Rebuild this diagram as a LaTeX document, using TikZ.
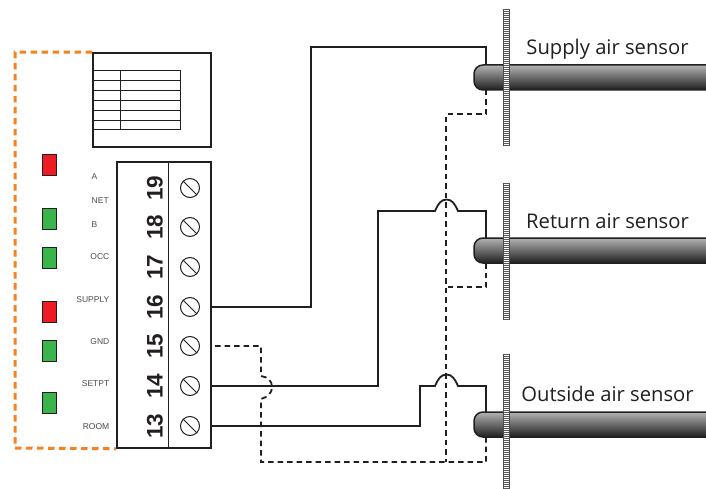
\documentclass[tikz,border=0pt]{standalone}
\usepackage{fontspec}
\setmainfont{Liberation Sans}
\newfontfamily\sensorfont{Open Sans}
\definecolor{busorange}{HTML}{F58220}
\definecolor{ledred}{HTML}{ED1C24}
\definecolor{ledgreen}{HTML}{39B54A}
\definecolor{linedark}{HTML}{231F20}
\tikzset{
  frame/.style = {draw=linedark,line width=1.6pt,fill=white,inner sep=0pt},
  led/.style = {draw=linedark,line width=1pt,minimum width=14pt,minimum height=21pt,inner sep=0pt},
  screw/.style = {circle,draw=linedark,line width=1pt,minimum size=19pt,inner sep=0pt},
  termnum/.style = {rotate=90,font=\fontsize{22.5}{22.5}\selectfont\bfseries,text=linedark,inner sep=0pt},
  tag/.style = {font=\fontsize{8.5}{8.5}\selectfont,text=black!70,inner sep=0pt},
  rod/.style = {draw=linedark,line width=1.5pt,top color=black!30,middle color=black!60,bottom color=black!88,rounded corners=9pt},
  flange/.style = {draw=black!70,line width=.7pt,fill=white,minimum width=6.5pt,minimum height=136pt,inner sep=0pt},
  sensortext/.style = {anchor=base,font=\sensorfont\fontsize{20.2}{21}\selectfont,text=linedark,inner sep=0pt},
  wire/.style = {draw=linedark,line width=1.8pt},
  return/.style = {draw=linedark,line width=1.8pt,dash pattern=on 5.5pt off 4pt},
  bus/.style = {draw=busorange,line width=3pt,dash pattern=on 6.5pt off 4.5pt}
}

\begin{document}
\begin{tikzpicture}[x=1pt,y=-1pt]
  \useasboundingbox (0,0) rectangle (706,489);
  % controller outline
  \node[frame,minimum width=118pt,minimum height=94pt] (panel) at (152,100) {};
  \node[frame,minimum width=94pt,minimum height=286pt] (block) at (164,305) {};
  \draw[bus] (panel.north west) -| (15,448) -- (block.south west);
  \draw[linedark,line width=.8pt] (168.5,162) -- (168.5,448);
  % table in the panel
  \draw[linedark,line width=.9pt] (93,70) rectangle (180,129);
  \draw[linedark,line width=.9pt] (120,70) -- (120,129);
  \foreach \ypos in {80,90,100,110,120}
    \draw[linedark,line width=.9pt] (93,\ypos) -- (180,\ypos);
  % leds
  \foreach \num/\ypos/\col in {1/165.5/ledred,2/218.5/ledgreen,3/258/ledgreen,4/312/ledred,5/351/ledgreen,6/403/ledgreen}
    \node[led,fill=\col] (led\num) at (49.7,\ypos) {};
  % tags
  \node[tag,anchor=west] (tagA) at (91.5,176.5) {A};
  \node[tag,anchor=west] (tagNet) at (91.5,200.5) {NET};
  \node[tag,anchor=west] (tagB) at (91.5,224.5) {B};
  \foreach \name/\ypos in {OCC/257,SUPPLY/299.5,GND/342,SETPT/383.5,ROOM/426.5}
    \node[tag,anchor=east] (tag\name) at (109.5,\ypos) {\name};
  % terminals
  \foreach \num/\ypos in {19/188,18/227,17/267,16/307,15/346,14/386,13/426} {
    \node[termnum] (num\num) at (155,\ypos) {\num};
    \node[screw] (s\num) at (190,\ypos) {};
    \draw[linedark,line width=1pt] (s\num.135) -- (s\num.-45);
  }
  % sensors
  \foreach \name/\ypos/\flangey/\txt/\txty in {supply/65/77/Supply air sensor/55,back/238/251/Return air sensor/228.3,outside/412/422/Outside air sensor/401} {
    \shadedraw[rod] (706,\ypos) -- (474,\ypos) -- (474,\ypos+25) -- (706,\ypos+25);
    \coordinate (\name Top) at (486,\ypos);
    \coordinate (\name Bot) at (486,\ypos+25);
    \node[flange] (\name Flange) at (506.2,\flangey) {};
    \draw[black!65,line width=5.4pt,dash pattern=on 1.2pt off .8pt] (\name Flange.north) -- (\name Flange.south);
    \node[sensortext] (\name Text) at (607.5,\txty) {\txt};
  }
  % solid wires
  \draw[wire] (s16 -| block.east) -| (311,47) -| (supplyTop);
  \draw[wire] (s14 -| block.east) -| (378,211) -- (435,211)
    .. controls +(3,-7) and +(-5.5,0) .. ++(11.5,-11.5)
    .. controls +(5.5,0) and +(-3,-7) .. ++(11.5,11.5) -| (backTop);
  \draw[wire] (s13 -| block.east) -| (420,386) -- (435,386)
    .. controls +(3,-7) and +(-5.5,0) .. ++(11.5,-11.5)
    .. controls +(5.5,0) and +(-3,-7) .. ++(11.5,11.5) -| (outsideTop);
  % dashed wires
  \draw[return] (supplyBot) |- (446.2,114) -- (446.2,462);
  \draw[return] (backBot) |- (446.2,287);
  \draw[return] (outsideBot) |- (261,462) -- (261,399)
    .. controls (268,397) and (272,393) .. (272,387)
    .. controls (272,381) and (268,377) .. (261,376) |- (s15 -| block.east);
\end{tikzpicture}
\end{document}
